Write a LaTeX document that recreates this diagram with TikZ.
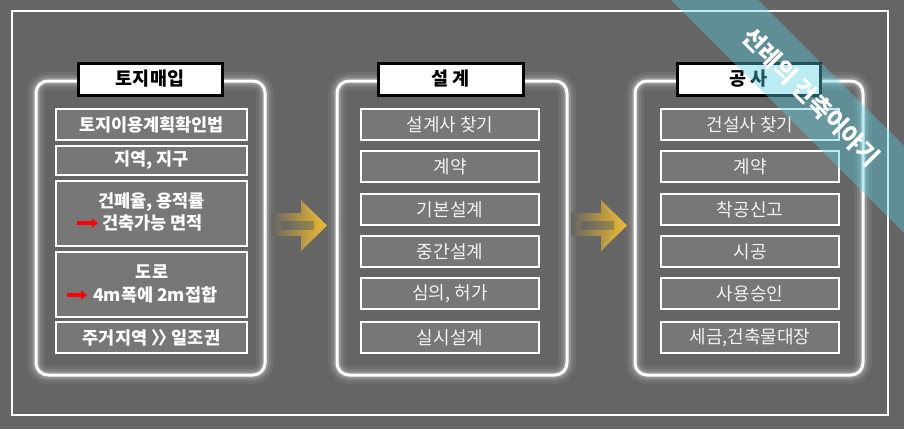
\documentclass[tikz,border=0pt]{standalone}
\usepackage{fontspec}
\newfontfamily\kr{Noto Sans CJK KR}
\usetikzlibrary{arrows.meta}
\definecolor{bg}{RGB}{101,101,101}
\definecolor{boxg}{RGB}{119,119,119}
\definecolor{ribbon}{RGB}{86,205,225}
\definecolor{goldA}{RGB}{245,190,40}
\definecolor{tanA}{RGB}{196,178,122}
\definecolor{oliveA}{RGB}{150,135,75}
\definecolor{offw}{RGB}{242,242,242}
\tikzset{
  panel/.style={draw=white, line width=3pt, rounded corners=12pt, inner sep=0pt,
    preaction={draw=white, line width=18pt, draw opacity=0.06},
    preaction={draw=white, line width=12pt, draw opacity=0.1},
    preaction={draw=white, line width=7pt, draw opacity=0.2}},
  titlebox/.style={draw=black, line width=3pt, fill=white, inner sep=0pt,
    minimum height=32pt, font={\kr\bfseries\fontsize{18.5pt}{20pt}\selectfont}},
  innerbox/.style={draw=white, line width=1.6pt, fill=boxg, text=offw, inner sep=0pt,
    font={\kr\fontsize{18pt}{20pt}\selectfont}},
  innerboxb/.style={innerbox, text=white, font={\kr\bfseries\fontsize{17.5pt}{20pt}\selectfont}},
  txtb/.style={text=white, inner sep=0pt, font={\kr\bfseries\fontsize{17.5pt}{20pt}\selectfont}},
  redarr/.style={draw=red, line width=3.5pt, -{Triangle[length=6pt,width=9pt]}},
  goldarrow/.style={left color=bg, middle color=tanA, right color=goldA},
}
\begin{document}
\begin{tikzpicture}[x=1pt,y=-1pt]
\useasboundingbox (0,0) rectangle (904,429);
\fill[bg] (0,0) rectangle (904,429);
\draw[white, line width=1.5pt] (12,11) rectangle (888,415);

% panels
\node[panel, minimum width=229pt, minimum height=294pt] (p1) at (150.5,228) {};
\node[panel, minimum width=230pt, minimum height=294pt] (p2) at (452,228) {};
\node[panel, minimum width=228pt, minimum height=294pt] (p3) at (749,228) {};

% titles
\node[titlebox, minimum width=144pt] (t1) at (150,79) {토지매입};
\node[titlebox, minimum width=145pt] (t2) at (450.5,79) {설 계};
\node[titlebox, minimum width=143pt] (t3) at (748.5,79) {공 사};

% panel 1 boxes
\node[innerboxb, minimum width=191pt, minimum height=31pt] (b11) at (151.5,124.5) {토지이용계획확인법};
\node[innerboxb, minimum width=191pt, minimum height=29pt] (b12) at (151.5,160.5) {지역, 지구};
\node[innerboxb, minimum width=191pt, minimum height=65pt] (b13) at (151.5,213.5) {};
\node[innerboxb, minimum width=191pt, minimum height=65pt] (b14) at (151.5,284.5) {};
\node[innerboxb, minimum width=191pt, minimum height=31pt] (b15) at (151.5,337.5) {주거지역 〉\kern-0.6em〉\kern-0.45em\ 일조권};
\node[txtb] (b13a) at (151.5,202) {건폐율, 용적률};
\node[txtb, anchor=west] (b13b) at (102,223) {건축가능 면적};
\node[txtb] (b14a) at (152,272) {도로};
\node[txtb, anchor=west] (b14b) at (93,295) {4m폭에 2m접합};
\draw[redarr] ([xshift=-25pt]b13b.west) -- ([xshift=-4pt]b13b.west);
\draw[redarr] ([xshift=-26pt]b14b.west) -- ([xshift=-6pt]b14b.west);

% panel 2 boxes
\node[innerbox, minimum width=178pt, minimum height=31pt] (b21) at (450,124.5) {설계사 찾기};
\node[innerbox, minimum width=178pt, minimum height=31pt] (b22) at (450,166.5) {계약};
\node[innerbox, minimum width=178pt, minimum height=31pt] (b23) at (450,209.5) {기본설계};
\node[innerbox, minimum width=178pt, minimum height=31pt] (b24) at (450,251.5) {중간설계};
\node[innerbox, minimum width=178pt, minimum height=31pt] (b25) at (450,293.5) {심의, 허가};
\node[innerbox, minimum width=178pt, minimum height=31pt] (b26) at (450,337.5) {실시설계};

% panel 3 boxes
\node[innerbox, minimum width=178pt, minimum height=31pt] (b31) at (750,124.5) {건설사 찾기};
\node[innerbox, minimum width=178pt, minimum height=31pt] (b32) at (750,166.5) {계약};
\node[innerbox, minimum width=178pt, minimum height=31pt] (b33) at (750,209.5) {착공신고};
\node[innerbox, minimum width=178pt, minimum height=31pt] (b34) at (750,251.5) {시공};
\node[innerbox, minimum width=178pt, minimum height=31pt] (b35) at (750,293.5) {사용승인};
\node[innerbox, minimum width=178pt, minimum height=31pt] (b36) at (750,337.5) {세금,건축물대장};

% gold arrows
\foreach \dx in {0,300}{
  \begin{scope}[xshift=\dx pt]
    \shade[goldarrow] (271,213) -- (301,213) -- (301,200) -- (327,225.5) -- (301,251) -- (301,236) -- (271,236) -- cycle;
    \draw[tanA, line width=1pt, draw opacity=0.6] (303,205) -- (324,225.5) -- (303,246);
    \shade[left color=bg, right color=oliveA] (281,221) rectangle (314,229);
  \end{scope}
}

% ribbon
\fill[ribbon, fill opacity=0.4] (671,0) -- (758,0) -- (904,146) -- (904,233) -- cycle;
\node[rotate=-45, text=white, inner sep=0pt, font={\kr\bfseries\fontsize{24pt}{26pt}\selectfont}] (brand) at (811,97) {선레의 건축이야기};
\end{tikzpicture}
\end{document}
